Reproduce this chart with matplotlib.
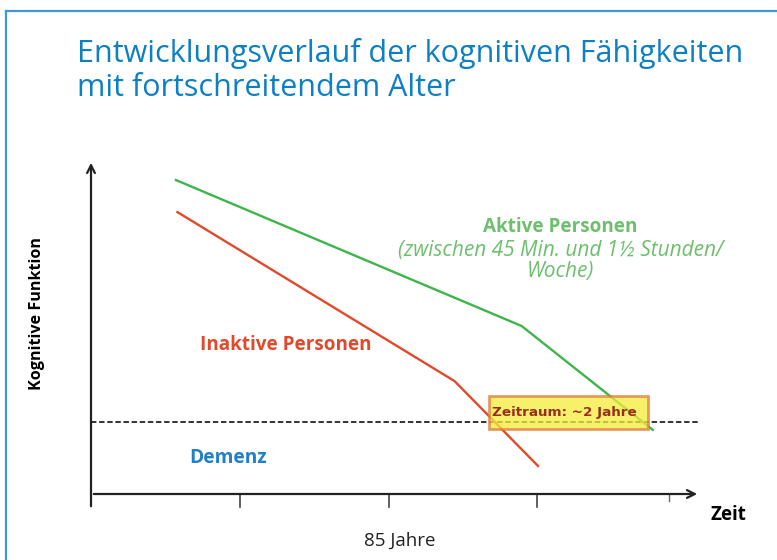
import matplotlib.pyplot as plt
from matplotlib.patches import Rectangle
from matplotlib.lines import Line2D

plt.rcParams['font.family'] = ['Open Sans', 'DejaVu Sans']

# data (arbitrary units: x = Zeit, y = kognitive Funktion)
aktiv_x = [0.57, 2.89, 3.77]
aktiv_y = [9.4, 5.03, 1.92]
inaktiv_x = [0.58, 2.44, 3.0]
inaktiv_y = [8.44, 3.38, 0.84]
demenz_schwelle = 2.16
ticks_x = [1.0, 2.0, 2.99]
tick_klein = 3.88
zeitraum = [2.67, 3.74]   # Zeitraum: ~2 Jahre

green = '#3cb54a'
red = '#e2492b'

fig = plt.figure(figsize=(7.77, 5.60), dpi=100)

# blue frame (top + left)
fig.add_artist(Line2D([6/777, 1], [1-11/560]*2, color='#3d9ad6', lw=1.6))
fig.add_artist(Line2D([6/777]*2, [0, 1-11/560], color='#3d9ad6', lw=1.6))

fig.text(77/777, 1-62/560, 'Entwicklungsverlauf der kognitiven Fähigkeiten',
         color='#0d7fc5', fontsize=22, ha='left', va='baseline')
fig.text(77/777, 1-96/560, 'mit fortschreitendem Alter',
         color='#0d7fc5', fontsize=22, ha='left', va='baseline')

ax = fig.add_axes([91/777, 1-494/560, 609/777, 334/560])
ax.set_xlim(0, 609/149)
ax.set_ylim(0, 10)
ax.axis('off')

# axes with arrows
ax.annotate('', xy=(0, 10), xytext=(0, -0.45), annotation_clip=False,
            arrowprops=dict(arrowstyle='->', color='#222222', lw=1.6, mutation_scale=14))
ax.annotate('', xy=(609/149, 0), xytext=(0, 0), annotation_clip=False,
            arrowprops=dict(arrowstyle='->', color='#222222', lw=1.6, mutation_scale=14))
for t in ticks_x:
    ax.plot([t, t], [0, -0.4], color='#444444', lw=1.2, clip_on=False)
ax.plot([tick_klein, tick_klein], [0, -0.22], color='#666666', lw=1.0, clip_on=False)

# Demenz threshold
ax.plot([0, 609/149], [demenz_schwelle]*2, color='#222222', lw=1.3, ls=(0, (3, 1.5)))

ax.plot(aktiv_x, aktiv_y, color=green, lw=1.7)
ax.plot(inaktiv_x, inaktiv_y, color=red, lw=1.7)

# Zeitraum box
ax.add_patch(Rectangle((zeitraum[0], demenz_schwelle - 0.22), zeitraum[1] - zeitraum[0], 1.0,
                       facecolor='#f4ec3a', alpha=0.75, edgecolor='#e07a3a', lw=2, zorder=3))
ax.text(zeitraum[0] + 0.02, demenz_schwelle + 0.28, 'Zeitraum: ~2 Jahre', color='#9a2e1c',
        fontsize=9.7, fontweight='bold', va='center', ha='left', zorder=4,
        family=['DejaVu Sans'])

ax.text(3.15, 8.0, 'Aktive Personen', color='#6cbf6c', fontsize=13.6, fontweight='bold',
        ha='center', va='center')
ax.text(3.15, 7.6, '(zwischen 45 Min. und 1½ Stunden/\nWoche)', color='#6cbf6c', fontsize=15,
        style='italic', ha='center', va='top', linespacing=1.0)
ax.text(1.31, 4.46, 'Inaktive Personen', color=red, fontsize=13.6, fontweight='bold',
        ha='center', va='center')
ax.text(0.92, 1.08, 'Demenz', color='#1f80c6', fontsize=13.8, fontweight='bold',
        ha='center', va='center')

fig.text(37/777, 1-314/560, 'Kognitive Funktion', rotation=90, fontsize=11.6, fontweight='bold',
         ha='center', va='center')
fig.text(728/777, 1-515/560, 'Zeit', fontsize=13.5, fontweight='bold', ha='center', va='center')
fig.text(400/777, 1-541/560, '85 Jahre', fontsize=13.5, ha='center', va='center', color='#222222')

fig.savefig('out.png', dpi=100)
